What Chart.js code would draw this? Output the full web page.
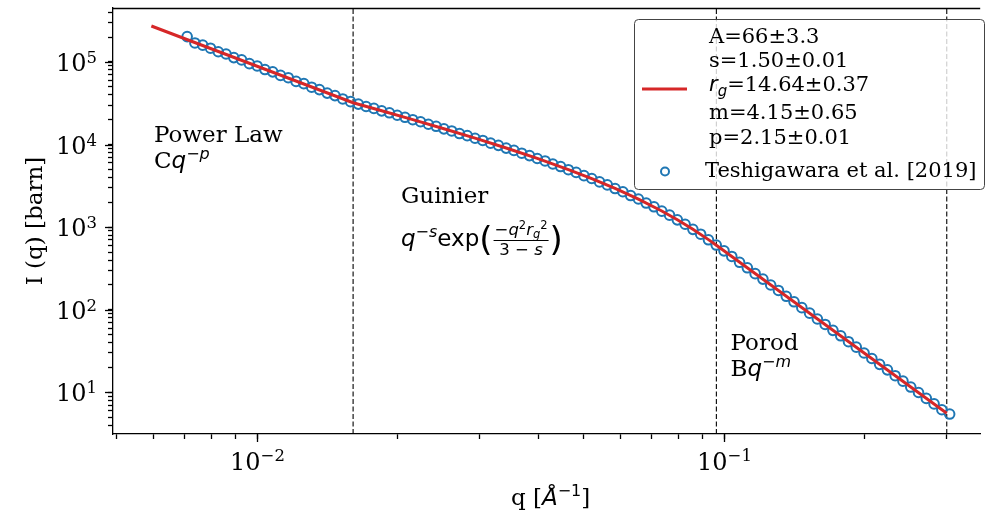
<!DOCTYPE html>
<html>
<head>
<meta charset="utf-8">
<script src="https://cdn.jsdelivr.net/npm/chart.js@4.4.0/dist/chart.umd.min.js"></script>
<style>
  html, body { margin: 0; padding: 0; background: #fff; }
  #wrap { width: 987px; height: 514px; }
</style>
</head>
<body>
<div id="wrap"><canvas id="chart" width="987" height="514"></canvas></div>
<script>
// measured points (Teshigawara et al. 2019), q in 1/Å, I in barn
const qData = [
  0.0070795, 0.0073564, 0.0076439, 0.0079433, 0.008254, 0.008577, 0.0089125, 0.0092612, 0.0096236,
  0.01, 0.010391, 0.010797, 0.01122, 0.011659, 0.012115, 0.012589, 0.013081, 0.013594, 0.014125,
  0.014678, 0.015252, 0.015849, 0.016469, 0.017113, 0.017783, 0.018478, 0.019201, 0.019953, 0.020733,
  0.021544, 0.022387, 0.023263, 0.024173, 0.025119, 0.026101, 0.027123, 0.028184, 0.029286, 0.030432,
  0.031623, 0.03286, 0.034145, 0.035481, 0.036869, 0.038312, 0.039811, 0.041368, 0.042987, 0.044668,
  0.046416, 0.048231, 0.050119, 0.05208, 0.054117, 0.056234, 0.058434, 0.060719, 0.063096, 0.065563,
  0.068129, 0.070795, 0.073564, 0.076439, 0.079433, 0.08254, 0.08577, 0.089125, 0.092612, 0.096236,
  0.1, 0.10391, 0.10797, 0.1122, 0.11659, 0.12115, 0.12589, 0.13081, 0.13594, 0.14125,
  0.14678, 0.15252, 0.15849, 0.16469, 0.17113, 0.17783, 0.18478, 0.19201, 0.19953, 0.20733,
  0.21544, 0.22387, 0.23263, 0.24173, 0.25119, 0.26101, 0.27123, 0.28184, 0.29286, 0.30432
];
const iData = [
  203000, 170000, 160000, 147000, 133000, 125000, 113000, 106000, 95500,
  89500, 81000, 76000, 68800, 64500, 58200, 54700, 49500, 46300, 42000,
  39200, 35700, 33100, 30900, 28900, 27400, 25600, 24250, 22650, 21400,
  20000, 18900, 17620, 16650, 15500, 14630, 13600, 12830, 11920, 11220,
  10410, 9790, 9060, 8500, 7860, 7350, 6780, 6330, 5820, 5420,
  4965, 4605, 4205, 3885, 3530, 3247, 2935, 2685, 2413, 2193,
  1957, 1764, 1562, 1397, 1225, 1084, 940, 822, 703, 607,
  516, 442, 375, 322, 273.5, 234.8, 199.2, 171.1, 145.3, 124.8,
  105.9, 90.9, 77.2, 66.3, 56.25, 48.3, 41.0, 35.2, 29.9, 25.66,
  21.8, 18.71, 15.88, 13.64, 11.58, 9.94, 8.44, 7.24, 6.15, 5.45
];

// fitted unified model (red line)
const qFit = [0.005934, 0.01605, 0.018478, 0.021544, 0.025119, 0.029286, 0.034145, 0.039811,
  0.046416, 0.05208, 0.058434, 0.065563, 0.073564, 0.079433, 0.08577, 0.092612, 0.0963, 0.30];
const iFit = [272900, 32130, 25700, 20060, 15560, 11970, 9095, 6805,
  4982, 3871, 2946, 2185, 1568, 1229, 943.2, 706.3, 603.0, 5.585];

// region boundaries (dashed lines)
const guideQ = [0.01605, 0.0963, 0.30];

// axis limits and ticks
const xMin = 0.004911, xMax = 0.3538;
const yMin = 3.126, yMax = 450700;
const xTickVals = [0.005, 0.006, 0.007, 0.008, 0.009, 0.01, 0.02, 0.03, 0.04, 0.05, 0.06, 0.07, 0.08, 0.09, 0.1, 0.2, 0.3];
const xMajor = [0.01, 0.1];
const xMajorExp = ['\u22122', '\u22121'];
const yTickVals = [4, 5, 6, 7, 8, 9, 10, 20, 30, 40, 50, 60, 70, 80, 90, 100, 200, 300, 400, 500, 600, 700, 800, 900,
  1000, 2000, 3000, 4000, 5000, 6000, 7000, 8000, 9000, 10000, 20000, 30000, 40000, 50000, 60000, 70000, 80000, 90000,
  100000, 200000, 300000, 400000];
const yMajor = [10, 100, 1000, 10000, 100000];
const yMajorExp = ['1', '2', '3', '4', '5'];

const fitLabel = ['A=66\u00b13.3', 's=1.50\u00b10.01', 'rg', 'm=4.15\u00b10.65', 'p=2.15\u00b10.01'];
const dataLabel = 'Teshigawara et al. [2019]';

const BLUE = '#1f77b4';
const RED = '#d62728';
const SERIF = '"DejaVu Serif", serif';
const SANS = '"DejaVu Sans", sans-serif';

// draw a row of text pieces: [text, font, dy]
function run(ctx, x, y, parts, align) {
  let w = 0;
  parts.forEach(p => { ctx.font = p[1]; w += ctx.measureText(p[0]).width; });
  let cx = align === 'right' ? x - w : align === 'center' ? x - w / 2 : x;
  ctx.textAlign = 'left';
  ctx.textBaseline = 'alphabetic';
  parts.forEach(p => {
    ctx.font = p[1];
    ctx.fillText(p[0], cx, y + (p[2] || 0));
    cx += ctx.measureText(p[0]).width;
  });
  return cx;
}
function width(ctx, parts) {
  let w = 0;
  parts.forEach(p => { ctx.font = p[1]; w += ctx.measureText(p[0]).width; });
  return w;
}

const decor = {
  id: 'decor',
  afterDraw(chart) {
    const ctx = chart.ctx;
    const xs = chart.scales.x, ys = chart.scales.y;
    const a = chart.chartArea;
    const tick = '24px ' + SERIF, tickSup = '16.5px ' + SERIF;
    const big = '23px ' + SERIF, leg = '21px ' + SERIF;
    const it = 'italic 23px ' + SANS, itSup = 'italic 16px ' + SANS;
    ctx.save();
    ctx.fillStyle = '#000';
    ctx.strokeStyle = '#000';
    ctx.lineWidth = 1.3;

    // top spine
    ctx.beginPath();
    ctx.moveTo(a.left - 0.5, a.top + 0.5);
    ctx.lineTo(a.right, a.top + 0.5);
    ctx.stroke();

    // longer major ticks + labels
    xMajor.forEach((v, i) => {
      const px = Math.round(xs.getPixelForValue(v)) + 0.5;
      ctx.beginPath(); ctx.moveTo(px, a.bottom); ctx.lineTo(px, a.bottom + 8); ctx.stroke();
      run(ctx, px, 470, [['10', tick], [xMajorExp[i], tickSup, -9]], 'center');
    });
    yMajor.forEach((v, i) => {
      const py = Math.round(ys.getPixelForValue(v)) + 0.5;
      ctx.beginPath(); ctx.moveTo(a.left - 8, py); ctx.lineTo(a.left, py); ctx.stroke();
      run(ctx, 97, py + 8.7, [['10', tick], [yMajorExp[i], tickSup, -8.5]], 'right');
    });

    // axis titles
    ctx.save();
    ctx.translate(41.5, (a.top + a.bottom) / 2);
    ctx.rotate(-Math.PI / 2);
    run(ctx, 0, 0, [['I (q) [barn]', big]], 'center');
    ctx.restore();
    run(ctx, (a.left + a.right) / 2 + 4, 505, [['q [', big], ['\u00c5', it], ['\u22121', '16px ' + SANS, -9], [']', big]], 'center');

    // region annotations
    run(ctx, 154, 141.5, [['Power Law', big]]);
    run(ctx, 154, 167.5, [['C', big], ['q', it], ['\u2212p', itSup, -9]]);
    run(ctx, 401, 203, [['Guinier', big]]);
    let fx = run(ctx, 401, 246, [['q', it], ['\u2212s', itSup, -9], ['exp', '23px ' + SANS]]);
    ctx.font = '34px ' + SANS;
    ctx.fillText('(', fx, 251);
    fx += ctx.measureText('(').width;
    const num = [['\u2212', '16.5px ' + SANS], ['q', 'italic 16.5px ' + SANS], ['2', '11.5px ' + SANS, -6.5],
      ['r', 'italic 16.5px ' + SANS], ['g', 'italic 11.5px ' + SANS, 3], ['2', '11.5px ' + SANS, -6.5]];
    const den = [['3 \u2212 ', '16.5px ' + SANS], ['s', 'italic 16.5px ' + SANS]];
    const fw = Math.max(width(ctx, num), width(ctx, den)) + 4;
    const fc = fx + fw / 2;
    run(ctx, fc, 235, num, 'center');
    run(ctx, fc, 254.5, den, 'center');
    ctx.lineWidth = 1;
    ctx.beginPath(); ctx.moveTo(fx + 1, 240.5); ctx.lineTo(fx + fw - 1, 240.5); ctx.stroke();
    ctx.font = '34px ' + SANS;
    ctx.fillText(')', fx + fw, 251);
    run(ctx, 730.5, 350, [['Porod', big]]);
    run(ctx, 730.5, 376, [['B', big], ['q', it], ['\u2212m', itSup, -9]]);

    // legend
    ctx.beginPath();
    ctx.roundRect(634.5, 19.5, 350, 170, 4);
    ctx.fillStyle = 'rgba(255,255,255,0.8)';
    ctx.fill();
    ctx.strokeStyle = '#444';
    ctx.lineWidth = 1;
    ctx.stroke();
    ctx.strokeStyle = RED;
    ctx.lineWidth = 3;
    ctx.beginPath(); ctx.moveTo(642, 89); ctx.lineTo(687, 89); ctx.stroke();
    ctx.fillStyle = '#000';
    const rows = [43.3, 66.7, 90.7, 119.3, 144];
    fitLabel.forEach((t, i) => {
      if (t === 'rg') {
        run(ctx, 709, rows[i], [['r', 'italic 21px ' + SANS], ['g', 'italic 15px ' + SANS, 5], ['=14.64\u00b10.37', leg]]);
      } else {
        run(ctx, 709, rows[i], [[t, leg]]);
      }
    });
    ctx.strokeStyle = BLUE;
    ctx.lineWidth = 2;
    ctx.beginPath(); ctx.arc(665, 171.5, 4, 0, Math.PI * 2); ctx.stroke();
    run(ctx, 705, 176.7, [[dataLabel, leg]]);
    ctx.restore();
  }
};

const points = qData.map((q, i) => ({ x: q, y: iData[i] }));
const fitPts = qFit.map((q, i) => ({ x: q, y: iFit[i] }));
const guideSets = guideQ.map(q => ({
  data: [{ x: q, y: yMin }, { x: q, y: yMax }],
  showLine: true,
  borderColor: '#000',
  borderWidth: 1.1,
  borderDash: [5, 2.5],
  pointRadius: 0,
  order: 2
}));

const axisCommon = {
  type: 'logarithmic',
  ticks: { display: false },
  grid: { display: true, drawOnChartArea: false, drawTicks: true, tickLength: 5, tickColor: '#000', tickWidth: 1.3 },
  border: { display: true, color: '#000', width: 1.3 }
};

new Chart(document.getElementById('chart'), {
  type: 'scatter',
  data: {
    datasets: [
      { data: fitPts, showLine: true, borderColor: RED, borderWidth: 3, pointRadius: 0, order: 0 },
      { data: points, showLine: false, pointRadius: 4.8, pointBorderWidth: 2, pointBorderColor: BLUE,
        pointBackgroundColor: 'rgba(0,0,0,0)', borderColor: BLUE, order: 1 },
      ...guideSets
    ]
  },
  options: {
    responsive: false,
    animation: false,
    devicePixelRatio: 1,
    layout: { padding: { top: 8, right: 0, left: 0, bottom: 0 } },
    plugins: { legend: { display: false }, tooltip: { enabled: false } },
    scales: {
      x: Object.assign({}, axisCommon, {
        min: xMin, max: xMax,
        afterBuildTicks: s => { s.ticks = xTickVals.map(v => ({ value: v, major: xMajor.includes(v) })); },
        afterFit: s => { s.height = 80; }
      }),
      y: Object.assign({}, axisCommon, {
        min: yMin, max: yMax,
        afterBuildTicks: s => { s.ticks = yTickVals.map(v => ({ value: v, major: yMajor.includes(v) })); },
        afterFit: s => { s.width = 113; }
      })
    }
  },
  plugins: [decor]
});
</script>
</body>
</html>
